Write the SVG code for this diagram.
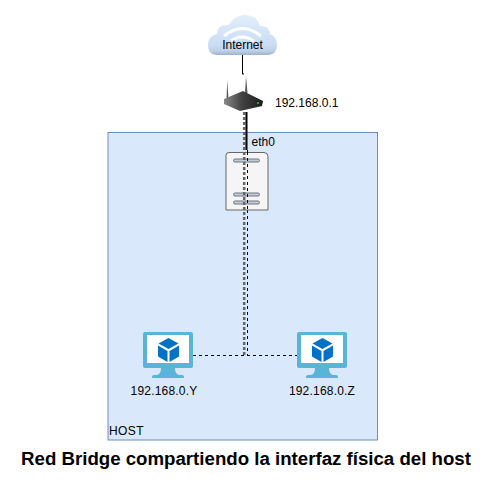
<svg xmlns="http://www.w3.org/2000/svg" width="491" height="496" viewBox="0 0 491 496">
<defs>
<style>
text{font-family:"Liberation Sans",Arial,sans-serif;font-size:12px;fill:#000}
.wire{fill:none;stroke:#000;stroke-width:1}
.dash{stroke-dasharray:3 3}
.fat{fill:none;stroke:#666;stroke-width:2.500;stroke-dasharray:3 2}
.slot{fill:#c3cad6;stroke:#6f7680;stroke-width:1}
.ip{letter-spacing:.2px}
</style>
<linearGradient id="cl" x1="0" y1="0" x2="0" y2="1"><stop offset="0" stop-color="#e2eefb"/><stop offset="0.75" stop-color="#c9ddf4"/><stop offset="0.9" stop-color="#bdd0e8"/><stop offset="1" stop-color="#9fb2c8"/></linearGradient>
<linearGradient id="rt" x1="0" y1="0" x2="1" y2="0"><stop offset="0" stop-color="#8a8a8a"/><stop offset="0.45" stop-color="#444"/><stop offset="1" stop-color="#1a1a1a"/></linearGradient>
<g id="vm">
<rect x="0" y="0" width="50" height="36" rx="2" fill="#59b4d9"/>
<rect x="4" y="3" width="42" height="28" fill="#fff"/>
<path d="M18 36h14q0 6 4 7h3q2 0 2 2v1h-32v-1q0-2 2-2h3q4-1 4-7z" fill="#59b4d9"/>
<path d="M25.500 6l10 5.500-10 5.500-10-5.500z" fill="#0072c6"/>
<path d="M15 13.500l9.500 5.500v11l-9.500-5.500z" fill="#0072c6"/>
<path d="M36 13.500l-9.500 5.500v11l9.500-5.500z" fill="#0072c6"/>
</g>
</defs>
<rect width="491" height="496" fill="#fff"/>
<g id="host">
<rect x="108" y="132.500" width="269.500" height="307.500" fill="#dae8fc" stroke="#6c8ebf"/>
<text x="109" y="435" style="letter-spacing:.4px">HOST</text>
</g>
<g id="connectors">
<path class="wire" d="M242.500 55v19h1.500"/>
<path class="fat" d="M244.200 112V355"/>
<path class="wire" style="stroke-width:2" d="M246.500 112V150"/>
<path class="wire dash" d="M247.500 150V355"/>
<path class="wire dash" d="M193 355.500H297"/>
</g>
<g id="internet">
<path d="M216 55q-8-1-8-10 0-9 9-11 0-10 12-9 5-10 16-10 12 0 15 11 9-1 10 8 7 3 7 11 0 9-8 10z" fill="url(#cl)"/>
<path d="M224 36q19-15 37 0M231 41q11-8 23 0" fill="none" stroke="#fff" stroke-width="3"/>
<text x="242.500" y="49" text-anchor="middle">Internet</text>
</g>
<g id="router">
<path d="M226.500 99l0.700-19 1.300 19zM245 93l1-17 1.500 17z" fill="#5a5a5a"/>
<path d="M224 99l19-8 20 10-1 5-22 5-16-7z" fill="url(#rt)"/>
<circle cx="258" cy="103" r="1" fill="#3c3"/>
<text x="275" y="107">192.168.0.1</text>
</g>
<g id="eth0"><text x="251.500" y="146">eth0</text></g>
<g id="bridge">
<path d="M229 152.500h35q4 0 4 4v53.500h-42v-54.500q0-3 3-3z" fill="#f5f5f5" stroke="#666"/>
<rect class="slot" x="233.500" y="159" width="26" height="3" rx="1.500"/>
<rect class="slot" x="233.500" y="193" width="26" height="3" rx="1.500"/>
<rect class="slot" x="233.500" y="201" width="26" height="3" rx="1.500"/>
<path d="M244.200 152V211" class="fat"/>
<path d="M247.500 152V211" class="wire dash"/>
</g>
<g id="vmy"><use href="#vm" x="143" y="332"/><text x="164" y="395" text-anchor="middle" class="ip">192.168.0.Y</text></g>
<g id="vmz"><use href="#vm" x="297" y="332"/><text x="322" y="395" text-anchor="middle" class="ip">192.168.0.Z</text></g>
<g id="title"><text x="246" y="465" text-anchor="middle" style="font-size:18.670px;font-weight:bold">Red Bridge compartiendo la interfaz física del host</text></g>
</svg>
